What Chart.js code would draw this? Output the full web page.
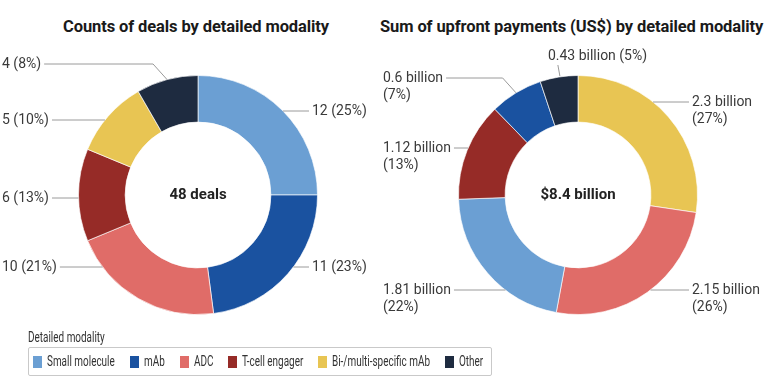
<!DOCTYPE html>
<html>
<head>
<meta charset="utf-8">
<script src="https://cdn.jsdelivr.net/npm/chart.js@4.4.1/dist/chart.umd.min.js"></script>
<style>
  html, body { margin: 0; padding: 0; background: #fff; }
  body { width: 770px; height: 388px; position: relative; overflow: hidden; font-family: Roboto, "Noto Sans", sans-serif; color: #222; }
  .title { position: absolute; top: 17px; height: 20px; line-height: 20px; font-weight: 700; font-size: 16.5px; text-align: center; white-space: nowrap; letter-spacing: -0.1px; color: #1a1a1a; }
  .wrap { position: absolute; top: 0; height: 330px; }
  .cond { display: inline-block; white-space: nowrap; transform: scaleX(0.71); transform-origin: 0 50%; font-size: 14px; color: #333; }
  #legendTitle { position: absolute; left: 28px; top: 329px; line-height: 16px; }
  #legend { position: absolute; left: 28px; top: 347px; width: 462px; height: 27px; border: 1px solid #c9c9c9; border-radius: 2px; }
  .item { position: absolute; top: 0; height: 27px; line-height: 27px; }
  .sw { position: absolute; left: 0; top: 8px; width: 9px; height: 12px; }
  .item .cond { position: absolute; left: 14px; top: 0; }
</style>
</head>
<body>
<div class="title" style="left:0;width:392px;">Counts of deals by detailed modality</div>
<div class="title" style="left:380px;width:380px;">Sum of upfront payments (US$) by detailed modality</div>
<div class="wrap" style="left:0;width:385px;"><canvas id="dealsChart"></canvas></div>
<div class="wrap" style="left:375px;width:395px;"><canvas id="upfrontChart"></canvas></div>
<div id="legendTitle"><span class="cond">Detailed modality</span></div>
<div id="legend"></div>
<script>
// categories and colours
const modalities = ['Small molecule', 'mAb', 'ADC', 'T-cell engager', 'Bi-/multi-specific mAb', 'Other'];
const modalityColors = ['#6b9fd3', '#1a52a0', '#e06c68', '#962b27', '#e8c553', '#1e2b40'];

// left donut: number of deals (clockwise from 12 o'clock)
const dealModalities = ['Small molecule', 'mAb', 'ADC', 'T-cell engager', 'Bi-/multi-specific mAb', 'Other'];
const dealCounts = [12, 11, 10, 6, 5, 4];

// right donut: upfront payments, US$ billion
const upfrontModalities = ['Bi-/multi-specific mAb', 'ADC', 'Small molecule', 'T-cell engager', 'mAb', 'Other'];
const upfrontBillions = [2.3, 2.15, 1.81, 1.12, 0.6, 0.43];

const colorOf = name => modalityColors[modalities.indexOf(name)];
const FONT = 'Roboto, "Noto Sans", sans-serif';

// draws the value labels with leader lines and the centre text
const leaderLabels = {
  id: 'leaderLabels',
  afterDraw(chart, args, opts) {
    const { ctx } = chart;
    const meta = chart.getDatasetMeta(0);
    const values = chart.data.datasets[0].data;
    const total = values.reduce((a, b) => a + b, 0);
    let cx = 0, cy = 0;

    ctx.save();
    ctx.font = `14px ${FONT}`;
    ctx.textBaseline = 'middle';
    ctx.textAlign = 'left';
    ctx.strokeStyle = '#9a9a9a';
    ctx.lineWidth = 1;

    meta.data.forEach((arc, i) => {
      const spec = opts.layout[i];
      const p = arc.getProps(['x', 'y', 'outerRadius', 'startAngle', 'endAngle'], true);
      cx = p.x; cy = p.y;
      const R = p.outerRadius;
      const mid = (p.startAngle + p.endAngle) / 2;
      const px = cx + R * Math.cos(mid);
      const py = cy + R * Math.sin(mid);
      let lines = opts.format(values[i], Math.round(values[i] / total * 100));
      const ly = cy + spec.dy;
      const right = Math.cos(mid) >= 0;
      let tx;

      ctx.beginPath();
      if (spec.mode === 'top') {
        lines = [lines.join(' ')];
        tx = px - 11;
        ctx.moveTo(px + 1, py - 1);
        ctx.lineTo(px - 1, ly + 9);
      } else {
        const w = ctx.measureText(lines[0]).width;
        tx = right ? cx + opts.rightX : cx + opts.leftX;
        const edge = right ? tx - 3 : tx + w + 3;
        if (spec.mode === 'elbow') {
          const ex = px + (right ? 1 : -1) * Math.abs(py - ly) * 0.9;
          ctx.moveTo(px, py);
          ctx.lineTo(ex, ly);
          ctx.lineTo(edge, ly);
        } else {
          const ax = cx + (right ? 1 : -1) * Math.sqrt(R * R - spec.dy * spec.dy);
          ctx.moveTo(ax, ly);
          ctx.lineTo(edge, ly);
        }
      }
      ctx.stroke();

      ctx.fillStyle = '#3a3a3a';
      lines.forEach((t, k) => ctx.fillText(t, tx, ly + k * 17.5));
    });

    ctx.font = `bold 15px ${FONT}`;
    ctx.textAlign = 'center';
    ctx.fillStyle = '#222';
    ctx.fillText(opts.center(total), cx, cy);
    ctx.restore();
  }
};

function donut(canvasId, names, values, padding, labelOpts) {
  return new Chart(document.getElementById(canvasId), {
    type: 'doughnut',
    plugins: [leaderLabels],
    data: {
      labels: names,
      datasets: [{
        data: values,
        backgroundColor: names.map(colorOf),
        borderColor: 'rgba(255,255,255,0.65)',
        borderWidth: 1,
        hoverOffset: 0,
        offset: 0,
      }]
    },
    options: {
      responsive: true,
      maintainAspectRatio: false,
      animation: false,
      events: [],
      cutout: '61%',
      layout: { padding },
      plugins: {
        legend: { display: false },
        tooltip: { enabled: false },
        leaderLabels: labelOpts,
      }
    }
  });
}

donut('dealsChart', dealModalities, dealCounts,
  { left: 78, right: 67, top: 75, bottom: 15 },
  {
    leftX: -196, rightX: 114,
    layout: [{ dy: -84 }, { dy: 72 }, { dy: 72 }, { dy: 3 }, { dy: -75 }, { dy: -131, mode: 'elbow' }],
    format: (v, p) => [`${v} (${p}%)`],
    center: total => `${total} deals`,
  });

donut('upfrontChart', upfrontModalities, upfrontBillions,
  { left: 83, right: 72, top: 75, bottom: 15 },
  {
    leftX: -195, rightX: 114,
    layout: [{ dy: -93 }, { dy: 95 }, { dy: 95 }, { dy: -47 }, { dy: -117, mode: 'elbow' }, { dy: -139, mode: 'top' }],
    format: (v, p) => [`${v} billion`, `(${p}%)`],
    center: total => `$${total.toFixed(1)} billion`,
  });

// legend
const measure = document.createElement('canvas').getContext('2d');
measure.font = `14px ${FONT}`;
const legend = document.getElementById('legend');
let lx = 4;
modalities.forEach((name, i) => {
  const item = document.createElement('div');
  item.className = 'item';
  item.style.left = lx + 'px';
  item.innerHTML = `<div class="sw" style="background:${modalityColors[i]}"></div><span class="cond">${name}</span>`;
  legend.appendChild(item);
  lx += 14 + measure.measureText(name).width * 0.71 + 15;
});
</script>
</body>
</html>
